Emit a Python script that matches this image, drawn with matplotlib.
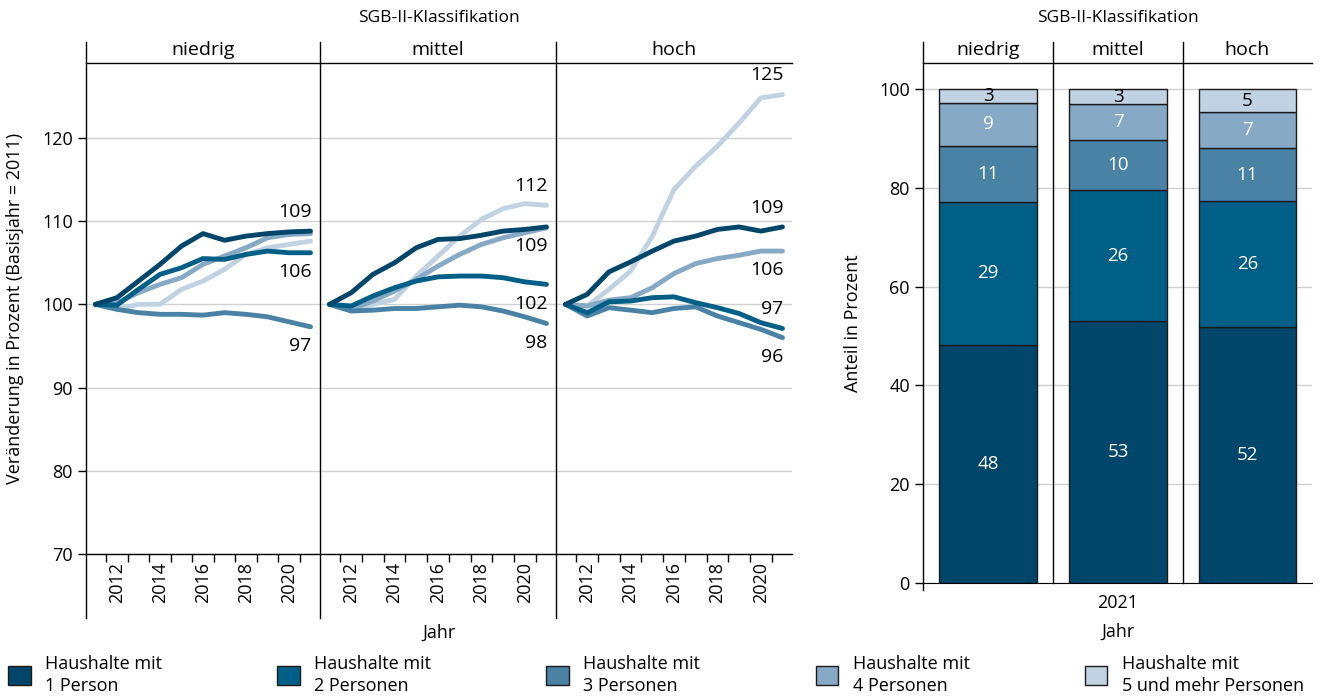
import matplotlib
matplotlib.use("Agg")
import matplotlib.pyplot as plt
from matplotlib.lines import Line2D
from matplotlib.patches import Patch

plt.rcParams["font.family"] = ["Open Sans", "DejaVu Sans"]
plt.rcParams["font.size"] = 13

# ---- data ----
years = list(range(2011, 2022))
groups = ["niedrig", "mittel", "hoch"]
series_names = ["Haushalte mit\n1 Person", "Haushalte mit\n2 Personen",
                "Haushalte mit\n3 Personen", "Haushalte mit\n4 Personen",
                "Haushalte mit\n5 und mehr Personen"]
colors = ["#00466a", "#005f86", "#4a82a5", "#86a9c5", "#c1d3e3"]

niedrig_1p = [100, 100.8, 102.8, 104.8, 107.0, 108.5, 107.7, 108.2, 108.5, 108.7, 108.8]
niedrig_2p = [100, 99.9, 101.8, 103.6, 104.4, 105.5, 105.4, 106.0, 106.4, 106.2, 106.2]
niedrig_3p = [100, 99.4, 99.0, 98.8, 98.8, 98.7, 99.0, 98.8, 98.5, 97.9, 97.3]
niedrig_4p = [100, 100.2, 101.4, 102.4, 103.2, 104.8, 105.8, 106.8, 108.0, 108.4, 108.5]
niedrig_5p = [100, 99.4, 100.0, 100.0, 101.8, 102.8, 104.2, 106.0, 106.8, 107.2, 107.6]

mittel_1p = [100, 101.4, 103.6, 105.0, 106.8, 107.8, 107.9, 108.3, 108.8, 109.0, 109.3]
mittel_2p = [100, 99.8, 101.0, 102.0, 102.8, 103.3, 103.4, 103.4, 103.2, 102.7, 102.4]
mittel_3p = [100, 99.2, 99.3, 99.5, 99.5, 99.7, 99.9, 99.7, 99.2, 98.5, 97.7]
mittel_4p = [100, 99.4, 100.4, 101.6, 103.0, 104.6, 106.0, 107.2, 108.0, 108.6, 109.2]
mittel_5p = [100, 99.2, 100.0, 100.6, 103.4, 105.8, 108.2, 110.2, 111.5, 112.1, 111.9]

hoch_1p = [100, 101.2, 103.9, 105.1, 106.4, 107.6, 108.2, 109.0, 109.3, 108.8, 109.3]
hoch_2p = [100, 99.0, 100.3, 100.4, 100.8, 100.9, 100.2, 99.6, 98.9, 97.8, 97.1]
hoch_3p = [100, 98.6, 99.6, 99.3, 99.0, 99.5, 99.7, 98.6, 97.8, 97.0, 96.0]
hoch_4p = [100, 99.8, 100.5, 100.8, 102.0, 103.7, 104.9, 105.5, 105.9, 106.4, 106.4]
hoch_5p = [100, 99.8, 101.8, 104.0, 108.2, 113.8, 116.6, 119.0, 121.8, 124.8, 125.2]

lines = {
    "niedrig": [niedrig_1p, niedrig_2p, niedrig_3p, niedrig_4p, niedrig_5p],
    "mittel": [mittel_1p, mittel_2p, mittel_3p, mittel_4p, mittel_5p],
    "hoch": [hoch_1p, hoch_2p, hoch_3p, hoch_4p, hoch_5p],
}
# which series get an end label, and whether it sits above (+1) or below (-1)
end_labels = {
    "niedrig": [(0, 1), (1, -1), (2, -1)],
    "mittel": [(4, 1), (0, -1), (1, -1), (2, -1)],
    "hoch": [(4, 1), (0, 1), (3, -1), (1, 1), (2, -1)],
}

shares_niedrig = [48.2, 29.0, 11.3, 8.8, 2.7]
shares_mittel = [53.1, 26.4, 10.2, 7.2, 3.1]
shares_hoch = [51.8, 25.6, 10.6, 7.3, 4.7]
shares = {"niedrig": shares_niedrig, "mittel": shares_mittel, "hoch": shares_hoch}
bar_year = "2021"

# ---- layout helpers (pixel -> figure coords) ----
W, H = 1322, 697


def fx(px):
    return px / W


def fy(py):
    return 1 - py / H


fig = plt.figure(figsize=(W / 100, H / 100), dpi=100)


def fig_line(x0, y0, x1, y1):
    fig.add_artist(Line2D([fx(x0), fx(x1)], [fy(y0), fy(y1)],
                          transform=fig.transFigure, color="black", lw=1))


# ---- left: index lines ----
edges = [86, 320, 556, 792]
for i, g in enumerate(groups):
    ax = fig.add_axes([fx(edges[i]), fy(554), (edges[i + 1] - edges[i]) / W, (554 - 63) / H])
    ax.set_xlim(2010.56, 2021.44)
    ax.set_ylim(70, 129)
    ax.set_yticks([70, 80, 90, 100, 110, 120])
    ax.grid(axis="y", color="#d0d0d0", lw=1)
    ax.set_axisbelow(True)
    for s in ["top", "right", "left"]:
        ax.spines[s].set_visible(False)
    ax.spines["bottom"].set_linewidth(1)

    for k in reversed(range(5)):
        ax.plot(years, lines[g][k], color=colors[k], lw=3.5, solid_capstyle="round",
                solid_joinstyle="round")

    for k, side in end_labels[g]:
        v = lines[g][k][-1]
        ax.text(2021.05, v + side * 2.3, f"{round(v)}", ha="right", va="center", fontsize=14)

    ax.set_xticks(range(2012, 2021, 2))
    ax.set_xticklabels([str(y) for y in range(2012, 2021, 2)], rotation=90)
    ax.set_xticks([y + 0.5 for y in range(2011, 2021)], minor=True)
    ax.tick_params(axis="x", which="major", length=0, pad=6, labelsize=13)
    ax.tick_params(axis="x", which="minor", length=6, width=1, direction="out")
    if i == 0:
        ax.tick_params(axis="y", length=6, width=1, labelsize=13)
    else:
        ax.tick_params(axis="y", length=0, labelleft=False)

    fig.text(fx((edges[i] + edges[i + 1]) / 2), fy(50), g, ha="center", va="center", fontsize=14)
    fig_line(edges[i], 42, edges[i], 618)

fig_line(86, 63, 792, 63)
fig.text(fx(439), fy(18), "SGB-II-Klassifikation", ha="center", va="center", fontsize=12.5)
fig.text(fx(439), fy(633), "Jahr", ha="center", va="center", fontsize=13)
fig.text(fx(15), fy(308), "Veränderung in Prozent (Basisjahr = 2011)", rotation=90,
         ha="center", va="center", fontsize=13)

# ---- right: stacked shares ----
redges = [923, 1053, 1183, 1312]
for i, g in enumerate(groups):
    ax = fig.add_axes([fx(redges[i]), fy(583), (redges[i + 1] - redges[i]) / W, (583 - 63) / H])
    ax.set_xlim(-0.5, 0.5)
    ax.set_ylim(0, 105.3)
    ax.set_yticks(range(0, 101, 20))
    ax.grid(axis="y", color="#d0d0d0", lw=1)
    ax.set_axisbelow(True)
    for s in ["top", "right", "left"]:
        ax.spines[s].set_visible(False)
    bottom = 0
    for k, v in enumerate(shares[g]):
        ax.bar(0, v, bottom=bottom, width=0.75, color=colors[k], edgecolor="#1a1a1a", lw=1)
        ax.text(0, bottom + v / 2, f"{round(v)}", ha="center", va="center", fontsize=13.5,
                color="black" if k == 4 else "white")
        bottom += v
    if i == 1:
        ax.set_xticks([0])
        ax.set_xticklabels([bar_year])
        ax.tick_params(axis="x", length=0, pad=8, labelsize=13)
    else:
        ax.set_xticks([])
    if i == 0:
        ax.tick_params(axis="y", length=6, width=1, labelsize=13)
    else:
        ax.tick_params(axis="y", length=0, labelleft=False)
    fig.text(fx((redges[i] + redges[i + 1]) / 2), fy(50), g, ha="center", va="center", fontsize=14)
    fig_line(redges[i], 42, redges[i], 590 if i == 0 else 583)

fig_line(923, 63, 1312, 63)
fig.text(fx(1118), fy(18), "SGB-II-Klassifikation", ha="center", va="center", fontsize=12.5)
fig.text(fx(1118), fy(632), "Jahr", ha="center", va="center", fontsize=13)
fig.text(fx(853), fy(323), "Anteil in Prozent", rotation=90, ha="center", va="center", fontsize=13)

# ---- legend ----
handles = [Patch(facecolor=c, edgecolor="#1a1a1a", lw=1) for c in colors]
leg = fig.legend(handles, series_names, ncol=5, loc="center", mode="expand",
                 bbox_to_anchor=(fx(8), fy(697), fx(1304) - fx(8), fy(653) - fy(697)),
                 frameon=False, borderaxespad=0, borderpad=0, handlelength=1.25,
                 handleheight=1.25, handletextpad=0.8, fontsize=13)
for t in leg.get_texts():
    t.set_linespacing(1.35)

fig.savefig("out.png", dpi=100)
